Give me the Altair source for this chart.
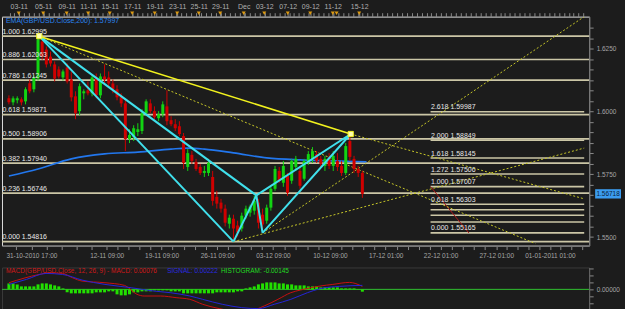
import json
import numpy as np
import pandas as pd
import altair as alt

# ---------------- data ----------------
opens = [1.6052,1.6036,1.6044,1.6048,1.6040,1.6112,1.6088,1.6131,1.6278,1.6246,
         1.6218,1.6187,1.6167,1.6135,1.6175,1.6127,1.6060,1.6001,1.6072,1.6084,
         1.6072,1.6135,1.6064,1.6139,1.6135,1.6111,1.6088,1.6056,1.6032,1.5890,
         1.5898,1.5918,1.5922,1.5993,1.6032,1.6001,1.5973,1.5989,1.6020,1.5965,
         1.5949,1.5941,1.5902,1.5779,1.5827,1.5799,1.5779,1.5755,1.5755,1.5739,
         1.5660,1.5637,1.5613,1.5553,1.5573,1.5546,1.5534,1.5585,1.5597,1.5605,
         1.5637,1.5589,1.5565,1.5617,1.5692,1.5763,1.5716,1.5743,1.5724,1.5779,
         1.5763,1.5732,1.5803,1.5811,1.5830,1.5811,1.5783,1.5811,1.5783,1.5803,
         1.5783,1.5755,1.5882,1.5811,1.5771,1.5755]
highs = [1.6064,1.6060,1.6060,1.6056,1.6096,1.6127,1.6143,1.62995,1.6294,1.6258,
         1.6238,1.6199,1.6179,1.6167,1.6191,1.6159,1.6080,1.6111,1.6088,1.6119,
         1.6143,1.6151,1.6151,1.6187,1.6159,1.6127,1.6104,1.6072,1.6048,1.5929,
         1.5945,1.5953,1.6009,1.6048,1.6048,1.6020,1.6001,1.6040,1.6084,1.5981,
         1.5969,1.5961,1.5914,1.5850,1.5842,1.5811,1.5791,1.5783,1.5811,1.5763,
         1.5684,1.5652,1.5629,1.5589,1.5589,1.5565,1.5597,1.5625,1.5629,1.5664,
         1.5652,1.5613,1.5629,1.5700,1.5783,1.5779,1.5803,1.5755,1.5811,1.5823,
         1.5779,1.5811,1.5842,1.5858,1.5842,1.5823,1.5823,1.5834,1.5842,1.5834,
         1.5803,1.5874,1.5914,1.5823,1.5783,1.5763]
lows = [1.6028,1.6024,1.6032,1.6024,1.6028,1.6072,1.6076,1.6123,1.6206,1.6175,
        1.6179,1.6119,1.6131,1.6123,1.6111,1.6040,1.5969,1.5985,1.6048,1.6064,
        1.6060,1.6052,1.6052,1.6111,1.6096,1.6072,1.6044,1.6017,1.5842,1.5874,
        1.5882,1.5902,1.5910,1.5981,1.5993,1.5969,1.5961,1.5977,1.5945,1.5941,
        1.5922,1.5902,1.5771,1.5763,1.5791,1.5763,1.5747,1.5739,1.5743,1.5625,
        1.5613,1.5597,1.5542,1.5534,1.54816,1.5502,1.5522,1.5573,1.5581,1.5589,
        1.5534,1.55165,1.5553,1.5605,1.5684,1.5716,1.5700,1.5664,1.5712,1.5763,
        1.5692,1.5724,1.5787,1.5795,1.5795,1.5779,1.5763,1.5771,1.5763,1.5763,
        1.5743,1.5747,1.5803,1.5755,1.5739,1.5656]
closes = [1.6036,1.6052,1.6052,1.6036,1.6088,1.6080,1.6135,1.6286,1.6218,1.6187,
          1.6191,1.6131,1.6139,1.6159,1.6119,1.6056,1.5993,1.6100,1.6080,1.6072,
          1.6135,1.6064,1.6139,1.6127,1.6111,1.6088,1.6056,1.6032,1.5890,1.5906,
          1.5933,1.5929,1.5993,1.6040,1.6001,1.5977,1.5989,1.6028,1.5961,1.5949,
          1.5933,1.5910,1.5795,1.5834,1.5803,1.5771,1.5755,1.5763,1.5795,1.5644,
          1.5633,1.5613,1.5557,1.5577,1.5534,1.5518,1.5585,1.5613,1.5621,1.5644,
          1.5557,1.5550,1.5617,1.5692,1.5771,1.5724,1.5783,1.5676,1.5803,1.5811,
          1.5704,1.5803,1.5830,1.5842,1.5803,1.5791,1.5811,1.5783,1.5823,1.5779,
          1.5755,1.5862,1.5819,1.5771,1.5755,1.56718]

ema_bar = [0, 7, 15, 23, 31, 39, 43, 47, 54, 62, 70, 78, 86]
ema_val = [1.5743, 1.5771, 1.5811, 1.5831, 1.5838, 1.5850, 1.5854, 1.5850,
           1.5835, 1.5815, 1.5807, 1.5803, 1.57997]

fib_ratio = ["1.000", "0.886", "0.786", "0.618", "0.500", "0.382", "0.236", "0.000"]
fib_price = [1.62995, 1.62063, 1.61245, 1.59871, 1.58906, 1.57940, 1.56746, 1.54816]

ext_ratio = ["2.618", "2.000", "1.618", "1.272", "1.000", "0.618", "0.500", "0.382", "0.236", "0.000"]
ext_price = [1.59987, 1.58849, 1.58145, 1.57506, 1.57007, 1.56303, 1.56086, 1.55869, 1.55600, 1.55165]
ext_labeled = [True, True, True, True, True, True, False, False, False, True]
EXT_START_BAR = 101.4
ext_trend_bar = [101.4, 110.6]
ext_trend_price = [1.57007, 1.55165]

pat_name = ["X", "A", "B", "C", "D"]
pat_bar = [7.3, 54.0, 59.5, 61.0, 82.2]
pat_price = [1.62995, 1.54816, 1.5666, 1.55165, 1.5910]
cyan_links = [("X", "A"), ("X", "B"), ("A", "B"), ("B", "C"), ("C", "D"), ("B", "D")]
yellow_links = [("X", "D")]
proj_from = ["X", "D", "C", "A"]
proj_end_bar = [126.6, 138.35, 138.35, 138.35]
proj_end_price = [1.5474, 1.5652, 1.6377, 1.5854]

last_price = 1.56718
ema_label = "EMA(GBP/USD.Close,200): 1.57997"

hist = [0.0018,0.0018,0.0015,0.0009,0.0009,0.0009,0.0009,0.0015,0.0018,0.0018,
        0.0015,0.0012,0.0009,0.0003,-0.0009,-0.0012,-0.0012,-0.0012,-0.0012,-0.0012,
        -0.0012,-0.0009,-0.0009,-0.0009,-0.0006,-0.0006,-0.0015,-0.0018,-0.0018,-0.0015,
        -0.0009,-0.0009,-0.0006,-0.0006,-0.0006,-0.0003,-0.0003,-0.0003,-0.0003,-0.0006,
        -0.0006,-0.0006,-0.0012,-0.0012,-0.0012,-0.0012,-0.0012,-0.0012,-0.0012,-0.0012,
        -0.0009,-0.0009,-0.0009,-0.0009,-0.0009,-0.0006,-0.0006,0.0003,0.0006,0.0009,
        0.0015,0.0018,0.0021,0.0021,0.0021,0.0018,0.0018,0.0015,0.0015,0.0012,
        0.0012,0.0012,0.0009,0.0009,0.0009,0.0006,0.0006,0.0006,0.0006,0.0006,
        0.0003,0.0003,0.0003,0.0003,0.0001,-0.0007]
macd_bar = [0, 7.3, 9.6, 12.9, 15.3, 17.6, 23.1, 27.8, 30.8, 32.5, 36.5, 40.2, 43.5,
            46.6, 50.6, 54.4, 57.6, 61.4, 64.7, 67.8, 70.1, 74.8, 77.9, 81.9, 85]
macd_val = [0.0020, 0.0045, 0.0050, 0.0048, 0.0035, 0.0025, 0.0020, 0.0012, -0.0015,
            -0.0020, -0.0020, -0.0025, -0.0030, -0.0045, -0.0058, -0.0065, -0.0065,
            -0.0050, -0.0030, -0.0010, -0.0002, 0.0010, 0.0015, 0.0021, 0.0009]
sig_bar = [0, 4.2, 8.9, 12.9, 17.6, 23.1, 29.4, 34.8, 38.8, 43.5, 46.6, 51.3, 56,
           60, 63.8, 67.8, 71.8, 74.8, 79.5, 85]
sig_val = [0.0015, 0.0030, 0.0048, 0.0045, 0.0028, 0.0015, 0.0005, -0.0005, -0.0010,
           -0.0020, -0.0030, -0.0045, -0.0055, -0.0058, -0.0045, -0.0030, -0.0010,
           0.0002, 0.0009, 0.0012]
macd_title = "MACD(GBP/USD.Close, 12, 26, 9) -  MACD: 0.00076"
signal_title = "SIGNAL: 0.00222"
hist_title = "HISTOGRAM: -0.00145"

top_pos = [2.35, 8.24, 13.88, 19.06, 24.24, 29.65, 35.06, 40.47, 45.65, 50.82,
           56.47, 61.41, 67.06, 72.47, 77.88, 84.24]
top_lab = ["03-11", "05-11", "09-11", "11-11", "15-11", "17-11", "19-11", "23-11",
           "25-11", "29-11", "Dec", "03-12", "07-12", "09-12", "11-12", "15-12"]
marker_pos = top_pos + [78.8]
bot_pos = [5.41, 23.5, 36.7, 50.1, 63.5, 77.2, 90.6, 103.8, 117.2, 130.1]
bot_lab = ["31-10-2010 17:00", "12-11 09:00", "19-11 09:00", "26-11 09:00",
           "03-12 09:00", "10-12 09:00", "17-12 01:00", "22-12 01:00",
           "27-12 01:00", "01-01-2011 01:00"]
price_labels = [1.5500, 1.5750, 1.6000, 1.6250]

# ---------------- style ----------------
BG = "#1c1c1c"
GREEN = "#12d412"
RED = "#d00000"
CYAN = "#40e0ec"
YEL = "#f2f21e"
YDOT = "#c8c828"
FIB = "#cbc6a6"
EMA = "#2277ee"
FONT = "Liberation Sans"
W, H, MH = 590, 230, 44
XMIN, XMAX = -0.47, 138.35
PMIN, PMAX = 1.5466, 1.6377

xs = alt.Scale(domain=[XMIN, XMAX], nice=False, zero=False)
ys = alt.Scale(domain=[PMIN, PMAX], nice=False, zero=False)

n = len(opens)
cdf = pd.DataFrame({"bar": list(range(n)), "open": opens, "high": highs,
                    "low": lows, "close": closes})
cdf["dir"] = np.where(cdf["close"] >= cdf["open"], "up", "down")
ccol = alt.Color("dir:N", scale=alt.Scale(domain=["up", "down"], range=[GREEN, RED]), legend=None)

X0 = alt.X("bar:Q", scale=xs, axis=None)

# bottom axis ticks (5 subdivisions between labels)
bot_ticks = []
for a, b in zip(bot_pos[:-1], bot_pos[1:]):
    for k in range(5):
        bot_ticks.append(float(a + (b - a) * k / 5))
step = (bot_pos[-1] - bot_pos[-2]) / 5
t = bot_pos[-1]
while t < XMAX:
    bot_ticks.append(float(t)); t += step
step0 = (bot_pos[1] - bot_pos[0]) / 5
t = bot_pos[0] - step0
while t > XMIN:
    bot_ticks.append(float(t)); t -= step0
bot_ticks = sorted(set(bot_ticks + bot_pos))

top_ticks = sorted(set([float(v) for v in np.arange(XMIN + 0.6, XMAX, 1.18)] + top_pos))


def lab_expr(pos, lab):
    p = json.dumps(pos); l = json.dumps(lab)
    return f"indexof({p}, datum.value) >= 0 ? {l}[indexof({p}, datum.value)] : ''"


AX = dict(labelOverlap=False, labelFlush=False, labelBound=False, title=None,
          domainColor="#6a6a6a", tickColor="#8a8a8a", labelColor="#a6a6a6", labelFont=FONT)
bottom_axis = alt.Axis(orient="bottom", values=bot_ticks, labelExpr=lab_expr(bot_pos, bot_lab),
                       tickSize=4, labelPadding=3, labelFontSize=6.5, minExtent=18, maxExtent=18, **AX)
top_axis = alt.Axis(orient="top", values=top_ticks, labelExpr=lab_expr(top_pos, top_lab),
                    tickSize=4, labelPadding=3, labelFontSize=7, minExtent=15, maxExtent=15,
                    **{**AX, "domainColor": "#8a8a8a", "labelColor": "#b0b0b0"})

price_ticks = sorted(set([round(1.55 + k * 0.025 / 6, 6) for k in range(-0, 21)] + price_labels))
right_axis = alt.Axis(orient="right", values=price_ticks,
                      labelExpr=lab_expr(price_labels, [f"{p:.4f}" for p in price_labels]),
                      tickSize=4, labelPadding=3, labelFontSize=6.5, minExtent=35, maxExtent=35, **AX)

wicks = alt.Chart(cdf).mark_rule(strokeWidth=1).encode(
    x=X0, y=alt.Y("low:Q", scale=ys, axis=None), y2="high:Q", color=ccol)
bodies = alt.Chart(cdf).mark_bar(size=3).encode(
    x=alt.X("bar:Q", scale=xs, axis=bottom_axis),
    y=alt.Y("open:Q", scale=ys, axis=right_axis), y2="close:Q", color=ccol)

fdf = pd.DataFrame({"price": fib_price, "label": [f"{r} {p:.5f}" for r, p in zip(fib_ratio, fib_price)]})
fib_lines = alt.Chart(fdf).mark_rule(color=FIB, strokeWidth=1.6).encode(
    y=alt.Y("price:Q", scale=ys, axis=None), x=alt.value(0), x2=alt.value(W))
fib_text = alt.Chart(fdf).mark_text(align="left", baseline="bottom", dy=-1.5, dx=0.5, fontSize=7,
                                    font=FONT, color="#e8e8e8").encode(
    y=alt.Y("price:Q", scale=ys, axis=None), x=alt.value(0), text="label:N")

edf = pd.DataFrame({"price": ext_price, "start": EXT_START_BAR, "end": XMAX,
                    "label": [f"{r} {p:.5f}" if s else "" for r, p, s in zip(ext_ratio, ext_price, ext_labeled)]})
ext_lines = alt.Chart(edf).mark_rule(color=FIB, strokeWidth=1.6).encode(
    y=alt.Y("price:Q", scale=ys, axis=None), x=alt.X("start:Q", scale=xs, axis=None), x2="end:Q")
ext_text = alt.Chart(edf).mark_text(align="left", baseline="bottom", dy=-1.5, dx=0.5, fontSize=7,
                                    font=FONT, color="#e8e8e8").encode(
    y=alt.Y("price:Q", scale=ys, axis=None), x=alt.X("start:Q", scale=xs, axis=None), text="label:N")

tdf = pd.DataFrame({"bar": ext_trend_bar, "price": ext_trend_price, "ord": [0, 1]})
trend = alt.Chart(tdf).mark_line(color="#b01818", strokeWidth=1).encode(
    x=alt.X("bar:Q", scale=xs, axis=None), y=alt.Y("price:Q", scale=ys, axis=None), order="ord:Q")

emadf = pd.DataFrame({"bar": ema_bar, "price": ema_val})
ema = alt.Chart(emadf).mark_line(color=EMA, strokeWidth=1.6, interpolate="monotone").encode(
    x=alt.X("bar:Q", scale=xs, axis=None), y=alt.Y("price:Q", scale=ys, axis=None))

pb = dict(zip(pat_name, pat_bar)); pp = dict(zip(pat_name, pat_price))


def links_df(links):
    rows = []
    for k, (a, b) in enumerate(links):
        rows.append({"seg": k, "ord": 0, "bar": pb[a], "price": pp[a]})
        rows.append({"seg": k, "ord": 1, "bar": pb[b], "price": pp[b]})
    return pd.DataFrame(rows)


def line_enc(ch):
    return ch.encode(x=alt.X("bar:Q", scale=xs, axis=None), y=alt.Y("price:Q", scale=ys, axis=None),
                     detail="seg:N", order="ord:Q")


prow = []
for k, (s, eb, ep) in enumerate(zip(proj_from, proj_end_bar, proj_end_price)):
    prow.append({"seg": k, "ord": 0, "bar": pb[s], "price": pp[s]})
    prow.append({"seg": k, "ord": 1, "bar": eb, "price": ep})
proj = line_enc(alt.Chart(pd.DataFrame(prow)).mark_line(color=YDOT, strokeWidth=1, strokeDash=[2, 2], clip=True))
cyan = line_enc(alt.Chart(links_df(cyan_links)).mark_line(color=CYAN, strokeWidth=2))
yel = line_enc(alt.Chart(links_df(yellow_links)).mark_line(color=YEL, strokeWidth=1.6))

mdf = pd.DataFrame({"bar": [pb["X"], pb["D"]], "price": [pp["X"], pp["D"]]})
markers = alt.Chart(mdf).mark_point(shape="square", filled=True, size=28, color="#ffffb0", opacity=1,
                                    stroke=YEL, strokeWidth=1).encode(
    x=alt.X("bar:Q", scale=xs, axis=None), y=alt.Y("price:Q", scale=ys, axis=None))

trdf = pd.DataFrame({"bar": marker_pos})
tri = alt.Chart(trdf).mark_point(shape="triangle-down", filled=True, size=16, color="#dc9a12", opacity=1).encode(
    x=alt.X("bar:Q", scale=xs, axis=top_axis), y=alt.value(-3.5))

ema_txt = alt.Chart(pd.DataFrame({"t": [ema_label]})).mark_text(
    align="left", baseline="middle", fontSize=7, font=FONT, color="#2a84f0").encode(
    x=alt.value(4), y=alt.value(4.5), text="t:N")

lpdf = pd.DataFrame({"price": [last_price], "t": [f"{last_price:.5f}"]})
box = alt.Chart(lpdf).mark_point(shape="M-1,-0.36H1V0.36H-1Z", filled=True, size=676, color="#3b9cf0",
                                 opacity=1).encode(x=alt.value(609), y=alt.Y("price:Q", scale=ys, axis=None))
box_t = alt.Chart(lpdf).mark_text(align="center", baseline="middle", fontSize=6.5, font=FONT,
                                  color="#0c1c38").encode(x=alt.value(609), y=alt.Y("price:Q", scale=ys, axis=None), text="t:N")

main = alt.layer(fib_lines, ext_lines, trend, proj, ema, wicks, bodies, cyan, yel, markers,
                 fib_text, ext_text, tri, ema_txt, box, box_t).resolve_axis(
    x="independent", y="independent").properties(width=W, height=H)

# ---------------- MACD ----------------
ms = alt.Scale(domain=[-0.0066, 0.0066], nice=False, zero=False)
hdf = pd.DataFrame({"bar": list(range(len(hist))), "hist": hist})
macd_axis = alt.Axis(orient="right", values=[-0.0063, -0.0042, -0.0021, 0, 0.0021, 0.0042, 0.0063],
                     labelExpr="datum.value == 0 ? '0.00000' : ''", tickSize=4, labelPadding=3,
                     labelFontSize=6.5, minExtent=35, maxExtent=35, **AX)
hbars = alt.Chart(hdf).mark_bar(size=3, color="#22e000").encode(
    x=alt.X("bar:Q", scale=xs, axis=None), y=alt.Y("hist:Q", scale=ms, axis=macd_axis))
zero = alt.Chart(pd.DataFrame({"v": [0.0]})).mark_rule(color="#2fbf2f", strokeWidth=1).encode(
    y=alt.Y("v:Q", scale=ms, axis=None))
mline = alt.Chart(pd.DataFrame({"bar": macd_bar, "v": macd_val})).mark_line(
    color="#c81010", strokeWidth=1, interpolate="monotone").encode(
    x=alt.X("bar:Q", scale=xs, axis=None), y=alt.Y("v:Q", scale=ms, axis=None))
sline = alt.Chart(pd.DataFrame({"bar": sig_bar, "v": sig_val})).mark_line(
    color="#2424d8", strokeWidth=1, interpolate="monotone").encode(
    x=alt.X("bar:Q", scale=xs, axis=None), y=alt.Y("v:Q", scale=ms, axis=None))
t1 = alt.Chart(pd.DataFrame({"t": [macd_title]})).mark_text(
    align="left", baseline="middle", fontSize=6.5, font=FONT, color="#d01818").encode(
    x=alt.value(4), y=alt.value(3.5), text="t:N")
t2 = alt.Chart(pd.DataFrame({"t": [signal_title]})).mark_text(
    align="left", baseline="middle", fontSize=6.5, font=FONT, color="#2a2ae0").encode(
    x=alt.value(166), y=alt.value(3.5), text="t:N")
t3 = alt.Chart(pd.DataFrame({"t": [hist_title]})).mark_text(
    align="left", baseline="middle", fontSize=6.5, font=FONT, color="#22dd22").encode(
    x=alt.value(220), y=alt.value(3.5), text="t:N")

macd = alt.layer(zero, hbars, mline, sline, t1, t2, t3).resolve_axis(y="independent").properties(
    width=W, height=MH, view=alt.ViewBackground(stroke="#3a3a3a"))

chart = alt.vconcat(main, macd, spacing=0).properties(
    background=BG, padding={"left": 0, "top": 0, "right": 0, "bottom": 0}
).configure_view(stroke=None).configure(font=FONT)

chart.save("out.html", embed_options={"renderer": "svg", "actions": False})
